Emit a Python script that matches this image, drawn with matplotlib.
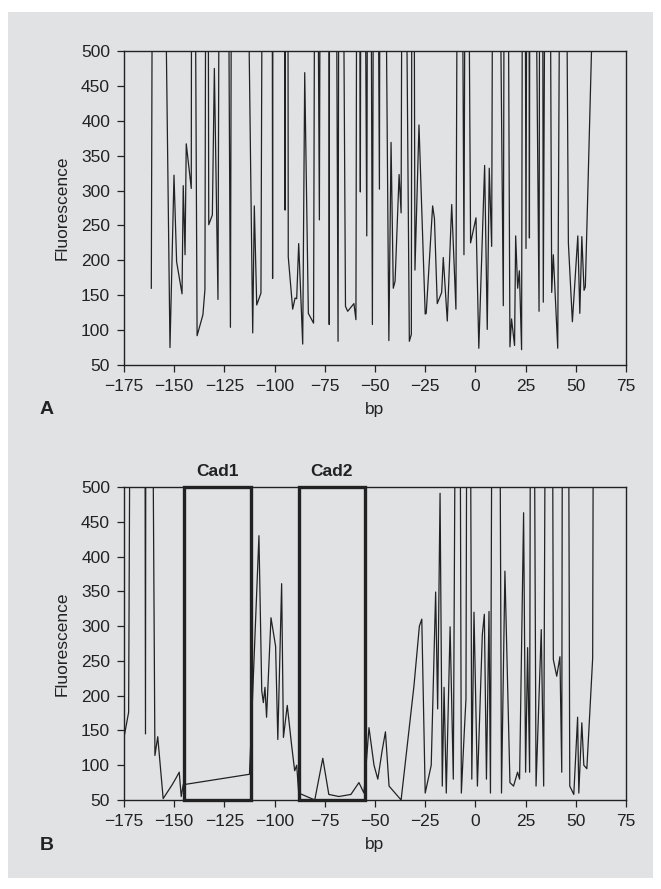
import matplotlib
matplotlib.use("Agg")
import matplotlib.pyplot as plt
from matplotlib.patches import Rectangle

# Panel A: fluorescence trace (values above 500 are clipped by the axis)
a_bp = [-161.4, -160, -156, -152.1, -150.1, -148.8, -146.1, -145.5, -144.6, -144,
        -141.5, -141, -138.6, -135.7, -134.7, -134, -133.3, -132.8, -131, -130,
        -128.2, -127, -124.5, -122, -121, -117, -110.9, -110.1, -108.9, -106.8,
        -105.5, -102, -101, -100, -95.5, -94.8, -94, -93.2, -91, -89.8,
        -89, -88, -86, -85, -83.2, -80.6, -79.5, -77.7, -76.5, -73.5,
        -72.8, -72, -70.5, -68.4, -67.5, -64.7, -63.6, -60.5, -59.5, -58.5,
        -57.3, -56.5, -54.1, -53, -51.3, -50, -47.8, -47, -43.1, -42,
        -40.9, -40, -38, -37, -36, -32.9, -31.9, -31.3, -30.1, -28.1,
        -25, -24.5, -21.3, -20.4, -19, -16.8, -16, -14, -11.8, -9.7,
        -8, -5.7, -4.5, -2.4, 0.3, 1.7, 4.6, 5.9, 6.9, 8.1,
        9.5, 13.9, 15, 17.2, 18, 19.5, 20.05, 21.05, 21.9, 23,
        24, 25.2, 26.3, 26.9, 27.5, 31.7, 32.7, 33.8, 36, 38,
        38.8, 41, 43.5, 46.3, 48.3, 51, 52, 53, 54.1, 54.75, 58]
a_val = [160, 1500, 1000, 75, 322, 198, 152, 307, 208, 367,
         303, 1500, 92, 122, 158, 1000, 1000, 251, 265, 475,
         144, 1200, 1500, 104, 1200, 1500, 96, 278, 136, 153,
         1200, 3000, 174, 3000, 3000, 272, 2500, 205, 130, 146,
         145, 224, 80, 469, 124, 110, 1200, 258, 1500, 3000,
         108, 3000, 1500, 84, 1500, 134, 127, 138, 115, 1500,
         298, 1500, 235, 1500, 108, 1500, 302, 1500, 85, 369,
         160, 170, 323, 268, 1200, 84, 94, 1500, 186, 394,
         123, 124, 278, 260, 138, 154, 204, 113, 280, 130,
         1500, 208, 1200, 225, 261, 74, 336, 101, 332, 220,
         1500, 135, 1500, 76, 116, 78, 235, 160, 185, 72,
         1500, 217, 1500, 232, 1500, 127, 2000, 140, 1500, 154,
         208, 74, 1500, 225, 112, 235, 124, 234, 157, 162, 520]

# Panel B: trace with the two candidate sites boxed
b_bp = [-175, -172.7, -170, -165.5, -164.3, -163.5, -162.5, -159.6, -158.2, -155.5,
        -151, -149, -147.5, -146.5, -145.5, -112.5, -107.8, -106.4, -105.6, -104.8,
        -104, -101.8, -99.5, -98.4, -96.5, -95.6, -93.7, -91.5, -90, -89,
        -88, -80, -76, -73, -68, -62, -58, -55.5, -53, -50.5,
        -48.6, -46.5, -44.8, -43, -40, -37, -30.6, -27.9, -26.7, -25,
        -22, -19.8, -18.8, -17.6, -16.5, -15.6, -14.5, -12.6, -11, -8.5,
        -7, -5.5, -4.7, -3.5, -1.8, -0.7, 1, 3.45, 4.45, 5.5,
        6.77, 7.5, 9.3, 11, 13, 14.7, 17.2, 19, 21, 22,
        24, 25, 26, 27, 28, 30.2, 32.8, 34, 36, 37.5,
        38.8, 40.5, 42.1, 43, 43.8, 45.5, 47, 49, 50.9, 51.5,
        53, 54, 55.5, 58.4, 58.7]
b_val = [140, 176, 2000, 2500, 145, 2500, 1500, 114, 141, 52,
         72, 82, 90, 55, 72, 87, 430, 207, 190, 212,
         169, 312, 271, 137, 361, 140, 186, 128, 92, 100,
         60, 50, 110, 58, 55, 58, 75, 60, 154, 100,
         80, 120, 148, 70, 60, 50, 214, 300, 310, 60,
         100, 349, 181, 491, 70, 212, 60, 299, 80, 1500,
         60, 150, 195, 1500, 80, 320, 70, 288, 317, 80,
         321, 60, 1500, 1500, 60, 379, 75, 70, 90, 80,
         463, 90, 269, 90, 1500, 70, 295, 70, 1500, 1500,
         252, 228, 256, 90, 1500, 1500, 70, 58, 169, 60,
         161, 100, 95, 254, 600]

cad_names = ["Cad1", "Cad2"]
cad_start = [-145, -88]
cad_end = [-112, -55]

x_ticks = list(range(-175, 76, 25))
y_ticks = list(range(50, 501, 50))

bg = "#e1e2e4"
ink = "#222222"
plt.rcParams["font.family"] = ["Liberation Sans", "DejaVu Sans"]

W, H = 661, 889
fig = plt.figure(figsize=(W / 100, H / 100), dpi=100)
fig.patch.set_facecolor("white")
fig.patches.append(Rectangle((8 / W, 1 - 878 / H), 645 / W, 866 / H,
                             transform=fig.transFigure, facecolor=bg,
                             edgecolor="none", zorder=-10))


def style_axes(ax):
    ax.set_facecolor(bg)
    ax.set_xlim(-175, 75)
    ax.set_ylim(50, 500)
    ax.set_xticks(x_ticks)
    ax.set_yticks(y_ticks)
    ax.set_xticklabels([str(t).replace("-", "\u2212") for t in x_ticks])
    for s in ax.spines.values():
        s.set_color(ink)
        s.set_linewidth(1.0)
    ax.tick_params(direction="out", length=5, width=0.9, color=ink,
                   labelsize=12.5, labelcolor=ink, pad=5)
    ax.set_ylabel("Fluorescence", fontsize=12.5, color=ink, labelpad=8)
    ax.set_xlabel("bp", fontsize=12.5, color=ink, labelpad=6)


left, right = 124 / W, 626 / W
axA = fig.add_axes([left, 1 - 365 / H, right - left, 314 / H])
axB = fig.add_axes([left, 1 - 800 / H, right - left, 313 / H])

axA.plot(a_bp, a_val, color=ink, lw=0.9)
axB.plot(b_bp, b_val, color=ink, lw=0.9)
for ax in (axA, axB):
    style_axes(ax)

for name, x0, x1 in zip(cad_names, cad_start, cad_end):
    axB.add_patch(Rectangle((x0, 50), x1 - x0, 450, fill=False,
                            edgecolor=ink, lw=2.4, zorder=5, clip_on=False))
    axB.text((x0 + x1) / 2, 512, name, ha="center", va="bottom",
             fontsize=12.5, fontweight="bold", color=ink)

fig.text(40 / W, 1 - 410 / H, "A", fontsize=14, fontweight="bold",
         color=ink, ha="left", va="center")
fig.text(40 / W, 1 - 845 / H, "B", fontsize=14, fontweight="bold",
         color=ink, ha="left", va="center")

fig.savefig("out.png", dpi=100, facecolor="white")
